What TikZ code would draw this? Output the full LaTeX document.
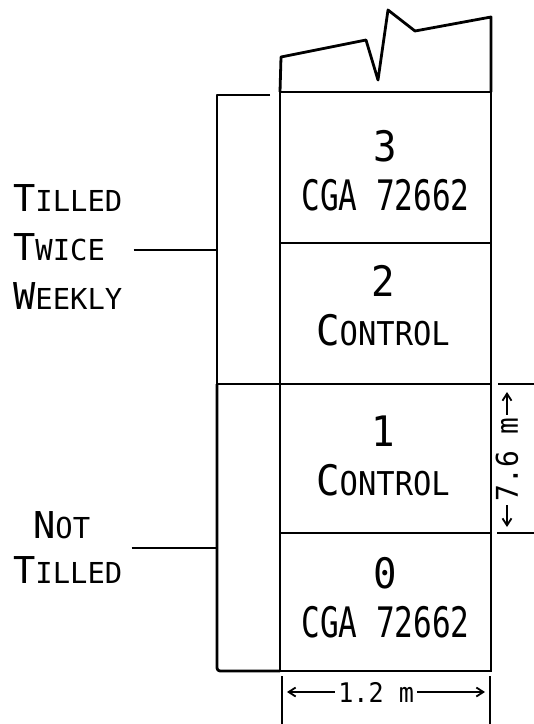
\documentclass[tikz,border=0pt]{standalone}
\usepackage{fontspec}
\usepackage{tikz}
\usetikzlibrary{arrows.meta, positioning, calc}
\newfontfamily\labfont[FakeStretch=0.93]{DejaVu Sans Mono}
\newfontfamily\cgafont[FakeStretch=0.74]{DejaVu Sans Mono}
\newfontfamily\sidefont{DejaVu Sans Mono}
\makeatletter
\newcommand\smcap[2]{#1{\dimen@=\f@size pt\dimen@=0.78\dimen@\fontsize{\strip@pt\dimen@}{\strip@pt\dimen@}\selectfont #2}}
\makeatother

\begin{document}
\begin{tikzpicture}[x=1pt, y=-1pt,
        plot/.style={rectangle, draw, line width=2.8pt, minimum width=211pt, outer sep=0pt},
        plottext/.style={align=center, inner sep=0pt, font=\labfont\fontsize{42}{49}\selectfont},
        side/.style={align=left, inner sep=5pt, font=\sidefont\fontsize{37}{49}\selectfont},
        bracket/.style={line width=2.8pt, line join=round},
        dim/.style={line width=1.8pt, {Straight Barb[length=7pt,width=9pt]}-{Straight Barb[length=7pt,width=9pt]}},
        dimlabel/.style={fill=white, inner sep=3pt, font=\labfont\fontsize{27}{27}\selectfont}
    ]
    \useasboundingbox (0,0) rectangle (534,724);

    % the four plots
    \node[plot, minimum height=151pt] (p3) at (385.5,167.5) {};
    \node[plot, minimum height=141pt] (p2) at (385.5,313.5) {};
    \node[plot, minimum height=149pt] (p1) at (385.5,458.5) {};
    \node[plot, minimum height=138pt] (p0) at (385.5,602) {};
    \node[plottext] (t3) at (385.5,170.5) {3\\{\cgafont CGA 72662}};
    \node[plottext] (t2) at (383,305.5) {2\\\smcap{C}{ONTROL}};
    \node[plottext] (t1) at (383,455.5) {1\\\smcap{C}{ONTROL}};
    \node[plottext] (t0) at (385.5,598) {0\\{\cgafont CGA 72662}};

    % broken top of the strip
    \draw[bracket] (p3.north west) -- (281,57) -- (366,40) -- (378,80) -- (388,10) -- (415,31) -- (491,17) -- (p3.north east);

    % treatment brackets
    \coordinate (tb) at (217,250);
    \coordinate (nb) at (217,548);
    \draw[bracket] (270,95) -- (217,95) -- (217,384) -- (p2.south west);
    \draw[bracket, rounded corners=3pt] (217,384) -- (217,671) -- (p0.south west);

    \node[side, anchor=west] (tilled) at (8,247) {\smcap{T}{ILLED}\\\smcap{T}{WICE}\\\smcap{W}{EEKLY}};
    \node[side, anchor=west] (nottilled) at (8,548) {\hspace*{20pt}\smcap{N}{OT}\\[-4pt]\smcap{T}{ILLED}};
    \draw[bracket] ($(tilled.east |- tb)+(6,0)$) -- (tb);
    \draw[bracket] ($(nottilled.east |- nb)+(4,0)$) -- (nb);

    % dimensions
    \coordinate (d1) at (498,384);
    \coordinate (d2) at (497,533);
    \draw[bracket] (d1) -- ++(36,0);
    \draw[bracket] (d2) -- ++(37,0);
    \draw[dim] ($(d1)+(9,8)$) -- ($(d2)+(10,-6)$) node[midway, dimlabel, rotate=90, font=\labfont\fontsize{30}{30}\selectfont] {7.6 m};

    \coordinate (w1) at (282,692);
    \coordinate (w2) at (490,692);
    \draw[bracket] ($(w1)+(0,-16)$) -- ($(w1)+(0,34)$);
    \draw[bracket] ($(w2)+(0,-16)$) -- ($(w2)+(0,34)$);
    \draw[dim] ($(w1)+(5,0)$) -- ($(w2)+(-5,0)$) node[pos=0.45, dimlabel] {1.2 m};
\end{tikzpicture}
\end{document}
